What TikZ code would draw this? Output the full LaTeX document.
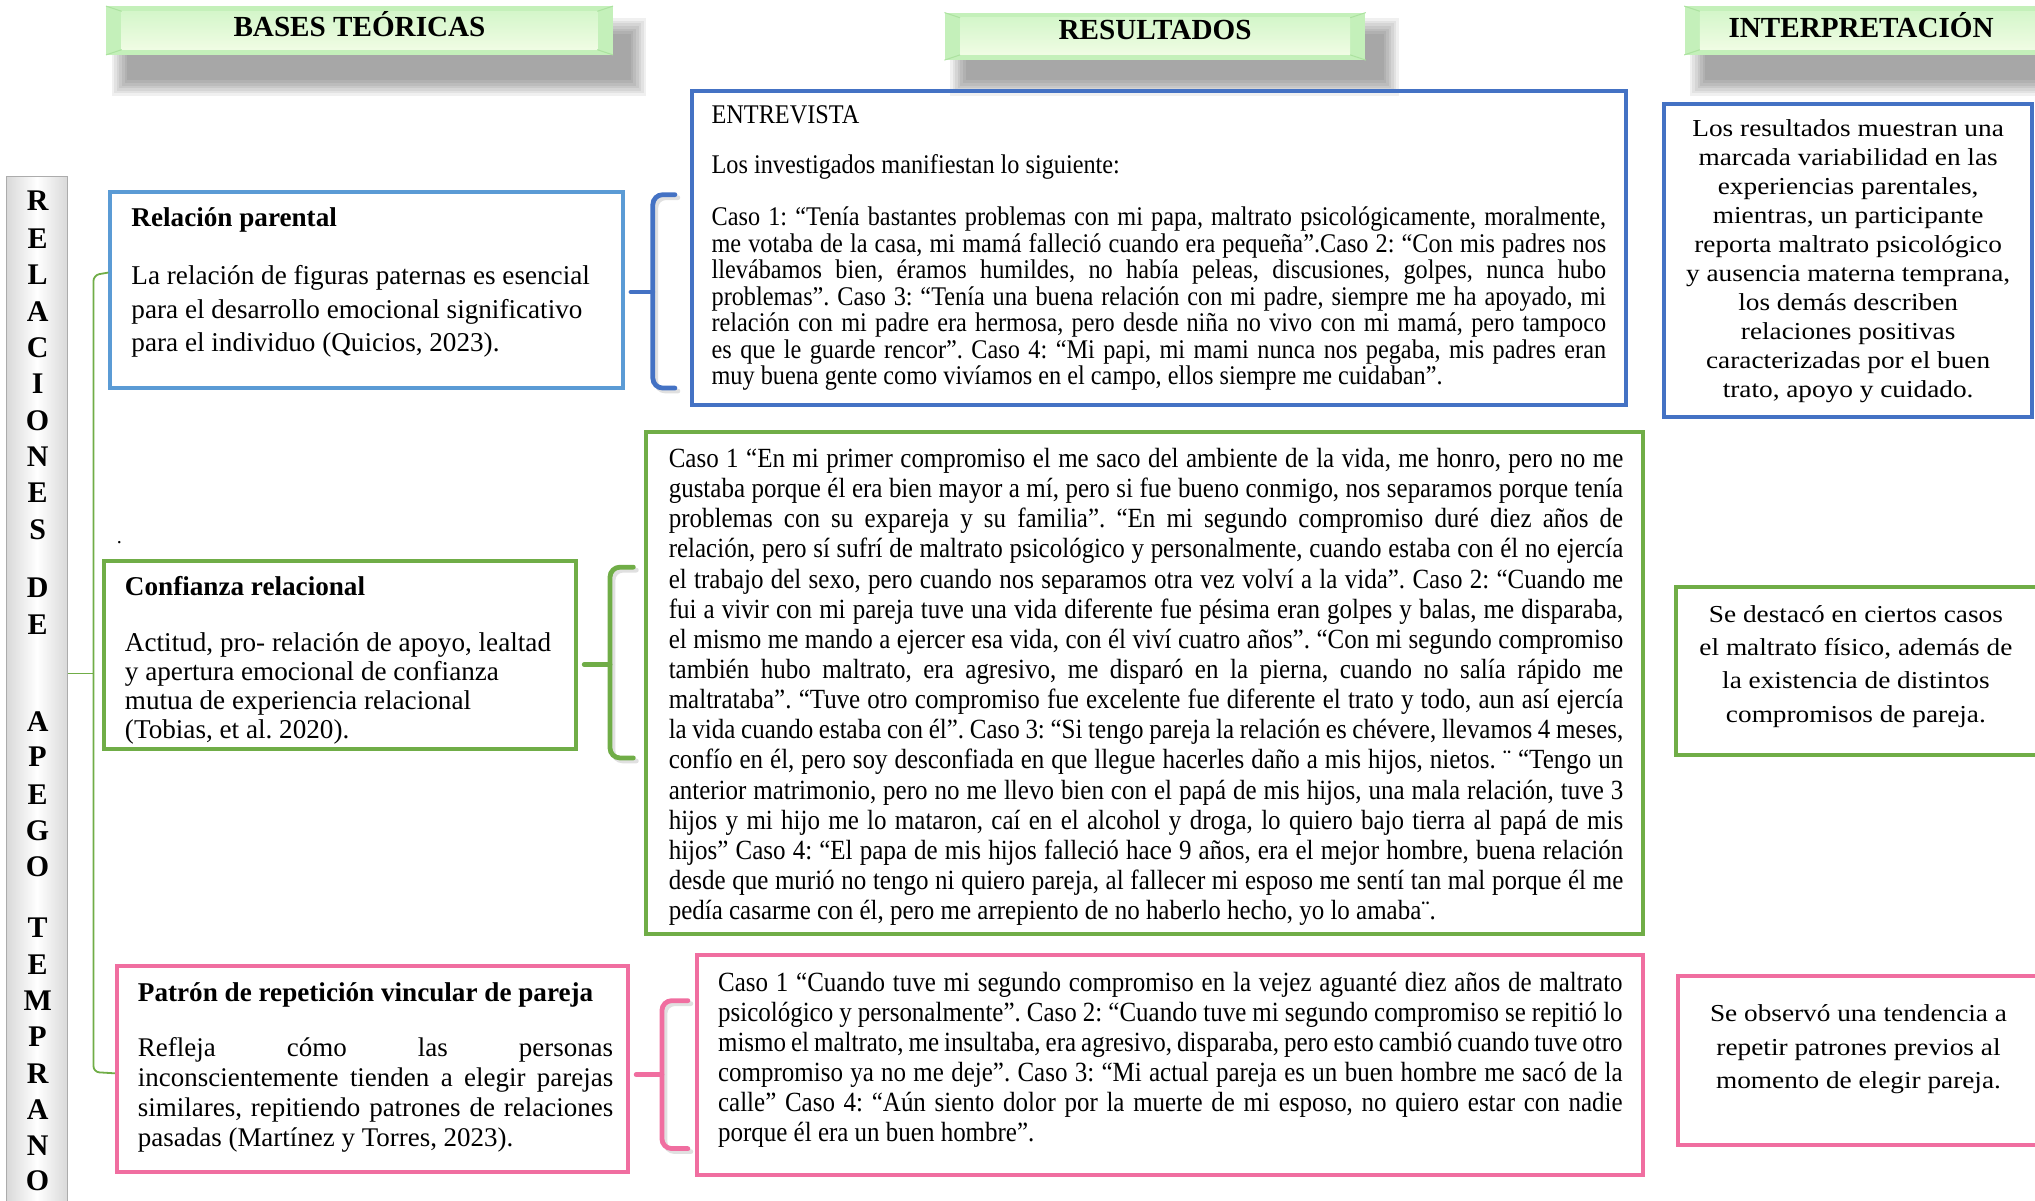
\documentclass[tikz,border=0pt]{standalone}
\usepackage{fontspec}
\setmainfont{Liberation Serif}
\newfontfamily\narrowserif[FakeStretch=0.9]{Liberation Serif}
\newfontfamily\wideserif[FakeStretch=1.12]{Liberation Serif}
\usetikzlibrary{positioning,calc,fit}
\tolerance=9999
\hbadness=10000
\frenchspacing

\definecolor{boxblue}{RGB}{68,114,196}
\definecolor{lightblue}{RGB}{91,155,213}
\definecolor{boxgreen}{RGB}{112,173,71}
\definecolor{boxpink}{RGB}{240,110,160}
\definecolor{bannerout}{RGB}{196,240,186}
\definecolor{bannertop}{RGB}{212,246,202}
\definecolor{bannerbot}{RGB}{240,252,228}
\definecolor{bannerline}{RGB}{172,226,160}

\tikzset{
  box/.style={inner sep=0pt, line width=2pt},
  txt/.style={inner sep=0pt, anchor=north west, align=left},
  jtxt/.style={inner sep=0pt, anchor=north west, align=justify},
  ctxt/.style={inner sep=0pt, anchor=north, align=center},
  brk/.style={line width=2.4pt, rounded corners=5pt, line cap=round},
  brkshadow/.style={brk, draw=black, opacity=0.12, xshift=1.5pt, yshift=-1.5pt},
  link/.style={draw=boxgreen, line width=0.9pt, rounded corners=3pt},
  banner/.style={fill=bannerout, inner sep=0pt},
  headtxt/.style={inner sep=0pt, font=\bfseries\fontsize{14.6}{17}\selectfont},
  vletter/.style={inner sep=0pt, font=\bfseries\fontsize{15}{17}\selectfont},
  vbox/.style={draw=gray!65, line width=0.8pt, left color=gray!30, right color=gray!30, middle color=white, inner sep=0pt}
}

\begin{document}
\begin{tikzpicture}[x=0.65pt, y=-0.65pt]
\useasboundingbox (0,0) rectangle (1568,925);

% shadows under the banners
\foreach \a/\b in {98/486, 744/1066, 1314/1600}
  \foreach \k in {0,2,...,12}
    \fill[black, opacity=0.06] (\a-\k, 26-\k) rectangle (\b+\k, 62+\k);

% banners
\node[banner, fit={(82,5) (472,42)}] (hBases) {};
\node[banner, fit={(728,10) (1052,46)}] (hRes) {};
\node[banner, fit={(1298,5) (1580,42)}] (hInt) {};
\foreach \n in {hBases,hRes,hInt} {
  \shade[top color=bannertop, bottom color=bannerbot] ($(\n.north west)+(12,4)$) rectangle ($(\n.south east)+(-12,-4)$);
  \draw[bannerline, line width=0.5pt] (\n.north west) -- ++(12,4) (\n.south west) -- ++(12,-4)
    (\n.north east) -- ++(-12,4) (\n.south east) -- ++(-12,-4);
}
\node[headtxt] (tBases) at ($(hBases.center)+(0,-5)$) {BASES TEÓRICAS};
\node[headtxt] (tRes) at ($(hRes.center)+(0,-5)$) {RESULTADOS};
\node[headtxt] (tInt) at (1434,19) {INTERPRETACIÓN};

% vertical title
\node[vbox, fit={(5,136) (52,940)}] (vBox) {};
\foreach \l/\y in {R/155,E/184,L/212,A/240,C/268,I/296,O/324,N/352,E/380,S/408,
                   D/453,E/481,A/556,P/583,E/612,G/640,O/668,
                   T/715,E/743,M/771,P/799,R/827,A/855,N/883,O/910}
  \node[vletter] (v\y) at (29,\y) {\l};

% boxes
\node[box, draw=lightblue, fit={(85,148) (480,299)}] (teo1) {};
\node[box, draw=boxgreen, fit={(80,432) (444,577)}] (teo2) {};
\node[box, draw=boxpink, fit={(90,744) (484,903)}] (teo3) {};
\node[box, draw=boxblue, fit={(533,70) (1253,312)}] (res1) {};
\node[box, draw=boxgreen, fit={(498,333) (1266,720)}] (res2) {};
\node[box, draw=boxpink, fit={(537,736) (1266,905)}] (res3) {};
\node[box, draw=boxblue, fit={(1282,80) (1566,321)}] (int1) {};
\node[box, draw=boxgreen, fit={(1291,452) (1580,582)}] (int2) {};
\node[box, draw=boxpink, fit={(1293,752) (1580,882)}] (int3) {};

% connectors
\draw[link] (teo1.west |- 0,210) -- (72,212) -- (72,826) -- (teo3.west |- 0,827);
\draw[link] (vBox.east |- 0,519) -- (72,519);
\draw[brkshadow] (520,150) -- (503,150) -- (503,299) -- (520,299);
\draw[brkshadow] (488,437) -- (470,437) -- (470,584) -- (488,584);
\draw[brkshadow] (530,771) -- (510,771) -- (510,885) -- (530,885);
\draw[brk, boxblue, shorten <=3pt] (teo1.east |- 0,225) -- (503,225);
\draw[brk, boxblue] (520,150) -- (503,150) -- (503,299) -- (520,299);
\draw[brk, boxgreen, shorten <=3pt] (teo2.east |- 0,512) -- (470,512);
\draw[brk, boxgreen] (488,437) -- (470,437) -- (470,584) -- (488,584);
\draw[brk, boxpink, shorten <=3pt] (teo3.east |- 0,828) -- (510,828);
\draw[brk, boxpink] (530,771) -- (510,771) -- (510,885) -- (530,885);

% bases teoricas
\node[txt, font=\bfseries\fontsize{13.6}{16}\selectfont] (teo1T) at (101,160) {Relación parental};
\node[txt, font=\fontsize{13.6}{16.9}\selectfont] (teo1B) at (101,204)
  {La relación de figuras paternas es esencial\\para el desarrollo emocional significativo\\para el individuo (Quicios, 2023).};
\node[inner sep=0pt] (dot) at (92,418) {.};
\node[txt, font=\bfseries\fontsize{13.6}{16}\selectfont] (teo2T) at (96,444) {Confianza relacional};
\node[txt, font=\fontsize{13.6}{14.5}\selectfont] (teo2B) at (96,487)
  {Actitud, pro- relación de apoyo, lealtad\\y apertura emocional de confianza\\mutua de experiencia relacional\\(Tobias, et al. 2020).};
\node[txt, font=\bfseries\fontsize{13.6}{16}\selectfont] (teo3T) at (106,757) {Patrón de repetición vincular de pareja};
\node[jtxt, text width=238pt, font=\fontsize{13.5}{15}\selectfont] (teo3B) at (106,799)
  {Refleja cómo las personas\linebreak inconscientemente tienden a elegir parejas\linebreak similares, repitiendo patrones de relaciones\linebreak pasadas (Martínez y Torres, 2023).};

% resultados
\node[txt, font=\narrowserif\fontsize{13.5}{13.3}\selectfont] (res1H) at (548,81) {ENTREVISTA};
\node[txt, font=\narrowserif\fontsize{13.5}{13.3}\selectfont] (res1I) at (548,119) {Los investigados manifiestan lo siguiente:};
\node[jtxt, text width=448pt, font=\narrowserif\fontsize{13.5}{13.3}\selectfont] (res1B) at (548,159)
  {Caso 1: “Tenía bastantes problemas con mi papa, maltrato psicológicamente, moralmente,\linebreak
   me votaba de la casa, mi mamá falleció cuando era pequeña”.Caso 2: “Con mis padres nos\linebreak
   llevábamos bien, éramos humildes, no había peleas, discusiones, golpes, nunca hubo\linebreak
   problemas”. Caso 3: “Tenía una buena relación con mi padre, siempre me ha apoyado, mi\linebreak
   relación con mi padre era hermosa, pero desde niña no vivo con mi mamá, pero tampoco\linebreak
   es que le guarde rencor”. Caso 4: “Mi papi, mi mami nunca nos pegaba, mis padres eran\linebreak
   muy buena gente como vivíamos en el campo, ellos siempre me cuidaban”.};
\node[jtxt, text width=478pt, font=\narrowserif\fontsize{13.9}{15.1}\selectfont] (res2B) at (515,345)
  {Caso 1 “En mi primer compromiso el me saco del ambiente de la vida, me honro, pero no me\linebreak
   gustaba porque él era bien mayor a mí, pero si fue bueno conmigo, nos separamos porque tenía\linebreak
   problemas con su expareja y su familia”. “En mi segundo compromiso duré diez años de\linebreak
   relación, pero sí sufrí de maltrato psicológico y personalmente, cuando estaba con él no ejercía\linebreak
   el trabajo del sexo, pero cuando nos separamos otra vez volví a la vida”. Caso 2: “Cuando me\linebreak
   fui a vivir con mi pareja tuve una vida diferente fue pésima eran golpes y balas, me disparaba,\linebreak
   el mismo me mando a ejercer esa vida, con él viví cuatro años”. “Con mi segundo compromiso\linebreak
   también hubo maltrato, era agresivo, me disparó en la pierna, cuando no salía rápido me\linebreak
   maltrataba”. “Tuve otro compromiso fue excelente fue diferente el trato y todo, aun así ejercía\linebreak
   la vida cuando estaba con él”. Caso 3: “Si tengo pareja la relación es chévere, llevamos 4 meses,\linebreak
   confío en él, pero soy desconfiada en que llegue hacerles daño a mis hijos, nietos. ¨ “Tengo un\linebreak
   anterior matrimonio, pero no me llevo bien con el papá de mis hijos, una mala relación, tuve 3\linebreak
   hijos y mi hijo me lo mataron, caí en el alcohol y droga, lo quiero bajo tierra al papá de mis\linebreak
   hijos” Caso 4: “El papa de mis hijos falleció hace 9 años, era el mejor hombre, buena relación\linebreak
   desde que murió no tengo ni quiero pareja, al fallecer mi esposo me sentí tan mal porque él me\linebreak
   pedía casarme con él, pero me arrepiento de no haberlo hecho, yo lo amaba¨.};
\node[jtxt, text width=453pt, font=\narrowserif\fontsize{13.9}{14.95}\selectfont] (res3B) at (553,749)
  {Caso 1 “Cuando tuve mi segundo compromiso en la vejez aguanté diez años de maltrato\linebreak
   psicológico y personalmente”. Caso 2: “Cuando tuve mi segundo compromiso se repitió lo\linebreak
   mismo el maltrato, me insultaba, era agresivo, disparaba, pero esto cambió cuando tuve otro\linebreak
   compromiso ya no me deje”. Caso 3: “Mi actual pareja es un buen hombre me sacó de la\linebreak
   calle” Caso 4: “Aún siento dolor por la muerte de mi esposo, no quiero estar con nadie\linebreak
   porque él era un buen hombre”.};

% interpretacion
\node[ctxt, font=\wideserif\fontsize{12.2}{14.5}\selectfont] (int1B) at (1424,92)
  {Los resultados muestran una\\marcada variabilidad en las\\experiencias parentales,\\mientras, un participante\\reporta maltrato psicológico\\y ausencia materna temprana,\\los demás describen\\relaciones positivas\\caracterizadas por el buen\\trato, apoyo y cuidado.};
\node[ctxt, font=\wideserif\fontsize{12.2}{16.7}\selectfont] (int2B) at (1430,466)
  {Se destacó en ciertos casos\\el maltrato físico, además de\\la existencia de distintos\\compromisos de pareja.};
\node[ctxt, font=\wideserif\fontsize{12.2}{16.6}\selectfont] (int3B) at (1432,774)
  {Se observó una tendencia a\\repetir patrones previos al\\momento de elegir pareja.};
\end{tikzpicture}
\end{document}
